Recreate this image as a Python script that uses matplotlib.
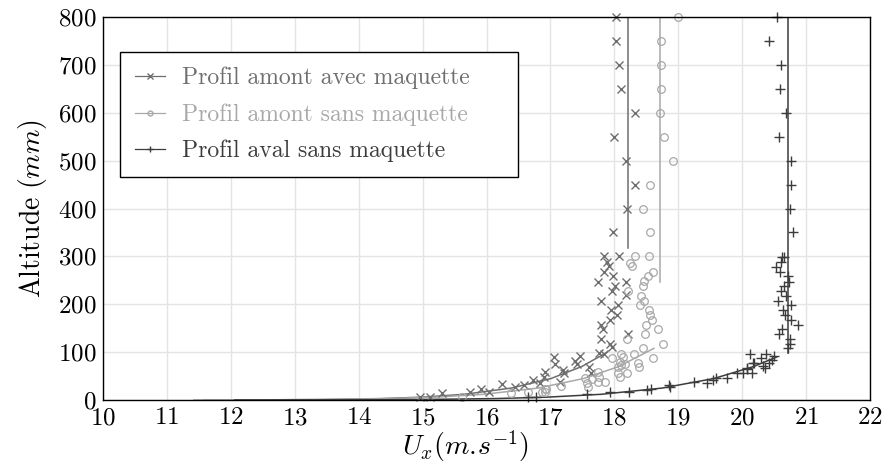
import matplotlib
matplotlib.use("Agg")
import matplotlib.pyplot as plt
from matplotlib.ticker import FuncFormatter, MultipleLocator

plt.rcParams['mathtext.fontset'] = 'cm'
plt.rcParams['font.family'] = ['cmr10', 'DejaVu Serif']
plt.rcParams['axes.formatter.use_mathtext'] = True

# amont avec maquette (x markers)
avec_u = [18.03, 18.03, 18.07, 18.10, 18.33, 18.00, 18.18, 18.33, 18.20, 17.98, 17.83, 18.08,
          17.88, 17.91, 17.84, 17.98, 17.74, 18.18, 18.01, 17.97, 18.18, 17.79, 18.05, 17.95,
          18.04, 17.93, 17.79, 17.82, 18.22, 17.79, 17.93, 17.97, 17.76, 17.83,
          17.06, 17.07, 17.38, 17.46, 17.41, 17.19, 17.21, 17.61, 17.64, 16.91, 16.90, 17.15,
          14.96, 15.11, 15.30, 15.74, 15.92, 16.04, 16.24, 16.45, 16.58, 16.73, 16.83]
avec_z = [800, 750, 700, 650, 600, 550, 500, 450, 400, 350, 300, 300,
          289, 280, 268, 258, 247, 247, 238, 228, 219, 207, 198, 188,
          177, 167, 157, 148, 138, 127, 118, 110, 99, 96,
          89, 75, 82, 92, 75, 63, 56, 68, 57, 59, 49, 38,
          7, 7, 14, 17, 22, 17, 33, 28, 31, 42, 36]

# amont sans maquette (o markers)
sans_u = [19.00, 18.73, 18.73, 18.73, 18.71, 18.78, 18.92, 18.56, 18.45, 18.56, 18.33, 18.54,
          18.25, 18.28, 18.61, 18.53, 18.46, 18.44, 18.22, 18.42, 18.46, 18.40, 18.54, 18.55,
          18.59, 18.49, 18.69, 18.48, 18.19, 18.76, 18.45,
          17.96, 18.11, 18.14, 18.30, 18.61, 18.09, 18.11, 18.17, 18.06, 18.37, 18.39, 18.20,
          18.05, 18.09, 17.75, 17.76, 17.85, 17.75, 17.65, 17.54, 17.57, 17.59, 17.16, 16.91,
          16.91, 15.61, 16.39, 16.65, 16.86, 16.93]
sans_z = [800, 750, 700, 650, 600, 550, 500, 450, 400, 350, 300, 300,
          287, 279, 268, 259, 249, 239, 228, 217, 207, 198, 188, 177,
          167, 157, 148, 138, 127, 117, 108,
          87, 96, 90, 96, 87, 80, 73, 75, 68, 77, 68, 57,
          56, 49, 59, 49, 38, 38, 43, 47, 35, 28, 29, 24,
          17, 7, 14, 17, 17, 22]

# aval sans maquette (+ markers)
aval_u = [20.54, 20.42, 20.61, 20.59, 20.68, 20.58, 20.76, 20.76, 20.75, 20.79,
          20.62, 20.66, 20.60, 20.53, 20.59, 20.71, 20.73, 20.65, 20.60, 20.69, 20.56, 20.76,
          20.64, 20.67, 20.76, 20.88, 20.62, 20.58, 20.75, 20.74, 20.72,
          20.12, 20.37, 20.30, 20.49, 20.46, 20.18, 20.42, 20.33, 20.36, 20.08, 20.02, 20.15,
          20.07, 20.17, 19.92, 19.76, 19.45, 19.55, 19.59, 19.24, 18.85, 18.87, 18.51, 18.58,
          18.23, 17.93, 17.57, 16.65, 16.77]
aval_z = [800, 750, 700, 650, 600, 550, 500, 450, 400, 350,
          299, 299, 288, 278, 267, 258, 247, 239, 228, 218, 207, 198,
          188, 177, 167, 157, 148, 138, 127, 118, 108,
          97, 97, 87, 92, 84, 78, 78, 71, 66, 66, 56, 56,
          64, 77, 57, 47, 36, 42, 45, 38, 31, 28, 21, 24,
          17, 17, 12, 6, 6]

# fitted profiles
fit_avec_u = [11.58, 12.41, 13.38, 14.34, 14.99, 15.65, 16.39, 17.01, 17.49, 17.89]
fit_avec_z = [0.1, 0.3, 1, 3, 6, 12, 25, 45, 70, 100]
fit_sans_u = [11.42, 12.33, 13.41, 14.49, 15.21, 15.96, 16.81, 17.52, 18.07, 18.62]
fit_sans_z = [0.1, 0.3, 1, 3, 6, 12, 25, 45, 70, 108]
fit_aval_u = [12.06, 13.70, 14.92, 16.13, 16.95, 17.80, 18.75, 19.56, 20.18, 20.54]
fit_aval_z = [0.05, 0.3, 1, 3, 6, 12, 25, 45, 70, 90]

# vertical asymptotes (u, z_start, z_end)
vert_avec = [18.21, 317, 800]
vert_sans = [18.71, 247, 800]
vert_aval = [20.71, 98, 800]

c_avec = '#6e6e6e'
c_sans = '#a8a8a8'
c_aval = '#3c3c3c'

fig = plt.figure(figsize=(8.86, 4.71), dpi=100)
ax = fig.add_axes([0.1163, 0.1507, 0.8657, 0.8132])

ax.plot(fit_avec_u, fit_avec_z, color=c_avec, lw=1.1)
ax.plot(fit_sans_u, fit_sans_z, color=c_sans, lw=1.1)
ax.plot(fit_aval_u, fit_aval_z, color=c_aval, lw=1.1)
ax.plot([vert_avec[0]] * 2, vert_avec[1:], color=c_avec, lw=1.1)
ax.plot([vert_sans[0]] * 2, vert_sans[1:], color=c_sans, lw=1.1)
ax.plot([vert_aval[0]] * 2, vert_aval[1:], color=c_aval, lw=1.1)

ax.plot(avec_u, avec_z, ls='none', marker='x', ms=6, mew=1.0, color=c_avec, clip_on=False)
ax.plot(sans_u, sans_z, ls='none', marker='o', ms=5.5, mew=0.9, mfc='none', color=c_sans, clip_on=False)
ax.plot(aval_u, aval_z, ls='none', marker='+', ms=7, mew=1.0, color=c_aval, clip_on=False)

# legend proxies
h1, = ax.plot([], [], color=c_avec, marker='x', ms=4, lw=0.9)
h2, = ax.plot([], [], color=c_sans, marker='o', ms=3.5, mfc='none', lw=0.9)
h3, = ax.plot([], [], color=c_aval, marker='+', ms=5, lw=0.9)
leg = ax.legend([h1, h2, h3],
                ['Profil amont avec maquette', 'Profil amont sans maquette', 'Profil aval sans maquette'],
                loc='upper left', bbox_to_anchor=(0.0222, 0.5796, 0.519, 0.329), mode='expand',
                borderaxespad=0, fontsize=17,
                handlelength=1.3, handletextpad=0.7, labelspacing=0.6,
                fancybox=False, framealpha=1, edgecolor='black', borderpad=0.62)
leg.get_frame().set_linewidth(1.0)
for t, c in zip(leg.get_texts(), [c_avec, c_sans, c_aval]):
    t.set_color(c)

ax.set_xlim(10, 22)
ax.set_ylim(0, 800)
ax.xaxis.set_major_locator(MultipleLocator(1))
ax.yaxis.set_major_locator(MultipleLocator(100))
ax.xaxis.set_major_formatter(FuncFormatter(lambda v, p: f'${v:g}$'))
ax.yaxis.set_major_formatter(FuncFormatter(lambda v, p: f'${v:g}$'))
ax.tick_params(length=0, labelsize=18, pad=5)
ax.grid(True, color='#e4e4e4', lw=1.0)
ax.set_axisbelow(True)
for s in ax.spines.values():
    s.set_linewidth(1.0)
    s.set_color('black')

ax.set_xlabel(r'$U_x(m.\!s^{-1})$', fontsize=20)
ax.xaxis.set_label_coords(0.473, -0.075)
ax.set_ylabel(r'$\mathrm{Altitude}\ (mm)$', fontsize=20, labelpad=6)

fig.savefig('out.png', dpi=100)
